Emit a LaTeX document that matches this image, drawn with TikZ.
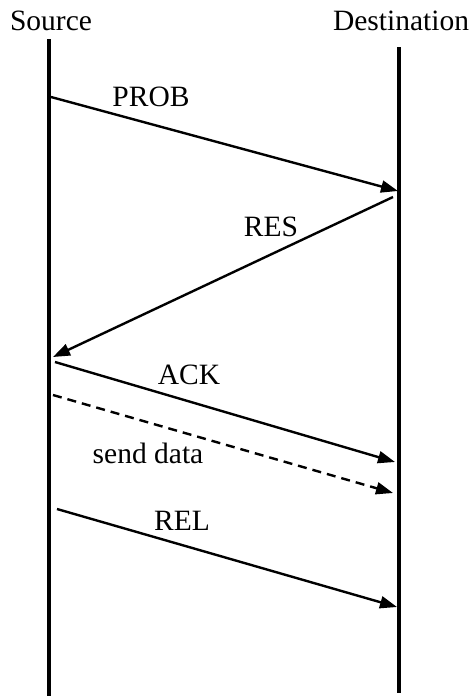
\documentclass[tikz,border=0pt]{standalone}
\usepackage{fontspec}
\setmainfont{Liberation Serif}
\usetikzlibrary{arrows.meta}
\begin{document}
\begin{tikzpicture}[x=1pt,y=-1pt,
  lbl/.style={font=\fontsize{29.5}{34}\selectfont, inner sep=0pt},
  life/.style={line width=3.8pt},
  msg/.style={line width=2.4pt, -{Triangle[length=17pt,width=12pt]}},
  dmsg/.style={msg, dash pattern=on 9pt off 6pt}]
\useasboundingbox (0,0) rectangle (471,696);
\node[lbl, anchor=base] (src) at (51,30) {Source};
\node[lbl, anchor=base] (dst) at (401,30) {Destination};
\coordinate (s0) at (49,39);
\coordinate (s1) at (49,696);
\coordinate (d0) at (399,47);
\coordinate (d1) at (399,693);
\draw[life] (s0) -- (s1);
\draw[life] (d0) -- (d1);
% messages
\coordinate (p0) at (51,97);
\coordinate (p1) at (398,191);
\coordinate (r0) at (393,197);
\coordinate (r1) at (53,357);
\coordinate (a0) at (55,362);
\coordinate (a1) at (395,462);
\coordinate (sd0) at (53,395);
\coordinate (sd1) at (393,493);
\coordinate (l0) at (57,509);
\coordinate (l1) at (397,607);
\draw[msg] (p0) -- (p1);
\draw[msg] (r0) -- (r1);
\draw[msg] (a0) -- (a1);
\draw[dmsg] (sd0) -- (sd1);
\draw[msg] (l0) -- (l1);
\node[lbl] (tp) at (151,97) {PROB};
\node[lbl] (tr) at (271,227) {RES};
\node[lbl] (ta) at (189,375) {ACK};
\node[lbl] (ts) at (148,453) {send data};
\node[lbl] (tl) at (182,521) {REL};
\end{tikzpicture}
\end{document}
